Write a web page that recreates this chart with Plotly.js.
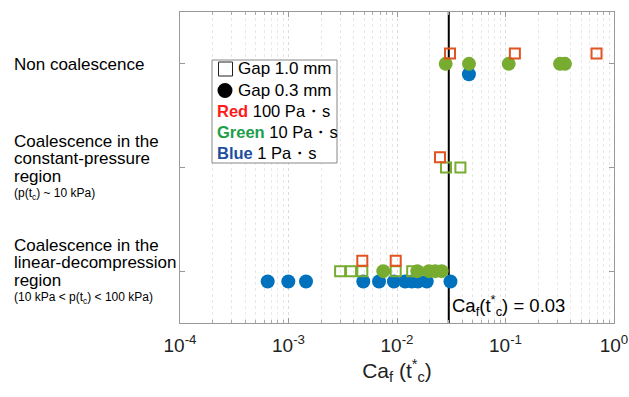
<!DOCTYPE html>
<html><head><meta charset="utf-8">
<script src="https://cdn.plot.ly/plotly-3.0.1.min.js"></script>
<style>html,body{margin:0;padding:0;background:#fff}#chart{width:629px;height:397px}</style>
</head><body><div id="chart"></div>
<script>
// ---- data ----
const rowNames = ['Linear-decompression', 'Constant-pressure', 'Non coalescence']; // rows 1,2,3
const xTickVals = [1e-4, 1e-3, 1e-2, 1e-1, 1];
const xTickText = ['10<sup>-4</sup>', '10<sup>-3</sup>', '10<sup>-2</sup>', '10<sup>-1</sup>', '10<sup>0</sup>'];
const caThreshold = 0.03;

// Red 100 Pa·s, gap 1.0 mm (open squares)
const red100Gap10X   = [0.0308, 0.122, 0.69, 0.0249, 0.00479, 0.00973];
const red100Gap10Row = [3, 3, 3, 2, 1, 1];
// Green 10 Pa·s, gap 1.0 mm (open squares)
const green10Gap10X   = [0.0283, 0.0384, 0.00299, 0.00377, 0.00479, 0.00973, 0.0138];
const green10Gap10Row = [2, 2, 1, 1, 1, 1, 1];
// Green 10 Pa·s, gap 0.3 mm (filled circles)
const green10Gap03X   = [0.0281, 0.0461, 0.107, 0.318, 0.353, 0.00748, 0.0154, 0.0197, 0.0225, 0.0258];
const green10Gap03Row = [3, 3, 3, 3, 3, 1, 1, 1, 1, 1];
// Blue 1 Pa·s, gap 0.3 mm (filled circles)
const blue1Gap03X   = [0.046, 0.000643, 0.000996, 0.00145, 0.00489, 0.00683, 0.00937, 0.0119, 0.0137, 0.0156, 0.0188, 0.0311];
const blue1Gap03Row = [3, 1, 1, 1, 1, 1, 1, 1, 1, 1, 1, 1];

// legend texts
const legendGap = ['Gap 1.0 mm', 'Gap 0.3 mm'];
const legendVisc = [['Red', '100 Pa・s', '#FF1A1A'], ['Green', '10 Pa・s', '#1E9E4A'], ['Blue', '1 Pa・s', '#1F4E9F']];

// ---- styles ----
const C_RED = '#E2531F', C_GREEN = '#77AC30', C_BLUE = '#0072BD';
const FONT = 'Liberation Sans, Arial, sans-serif';
const L = 180, R = 15, T = 12, B = 74, W = 629, H = 397;
const pw = W - L - R, ph = H - T - B;
const px = v => (v - L) / pw;
const py = v => (H - B - v) / ph;
const yRange = [0.5, 3.5];

function series(x, rows, off, marker) {
  return {x: x, y: rows.map(r => r + off), type: 'scatter', mode: 'markers',
          marker: marker, hoverinfo: 'x', showlegend: false, cliponaxis: false};
}
const data = [
  {x: [caThreshold, caThreshold], y: yRange, type: 'scatter', mode: 'lines',
   line: {color: '#000', width: 2}, hoverinfo: 'skip', showlegend: false},
  series(blue1Gap03X, blue1Gap03Row, -0.1, {symbol: 'circle', size: 14, color: C_BLUE}),
  series(green10Gap10X, green10Gap10Row, 0, {symbol: 'square-open', size: 10, color: C_GREEN, line: {width: 2}}),
  series(green10Gap03X, green10Gap03Row, 0, {symbol: 'circle', size: 14, color: C_GREEN}),
  series(red100Gap10X, red100Gap10Row, 0.1, {symbol: 'square-open', size: 10, color: C_RED, line: {width: 2}})
];

const ann = [];
function txt(text, xpx, ypx, size, extra) {
  ann.push(Object.assign({text: text, xref: 'paper', yref: 'paper', x: px(xpx), y: py(ypx),
    xanchor: 'left', yanchor: 'middle', showarrow: false, align: 'left', borderpad: 0,
    font: {family: FONT, size: size, color: '#000'}}, extra || {}));
}
const tight = {height: 17, valign: 'middle'};
// left row labels
txt('Non coalescence', 13, 64, 17);
txt('Coalescence in the', 13, 141, 17, tight);
txt('constant-pressure', 13, 158.5, 17, tight);
txt('region', 13, 176, 17, tight);
txt('(p(t<sub>c</sub>) ~ 10 kPa)', 13, 194, 12);
txt('Coalescence in the', 13, 245, 17, tight);
txt('linear-decompression', 13, 262.5, 17, tight);
txt('region', 13, 280, 17, tight);
txt('(10 kPa &lt; p(t<sub>c</sub>) &lt; 100 kPa)', 13, 298, 12);
// threshold label
txt('Ca<sub>f</sub>(t<sup>*</sup><sub>c</sub>) = 0.03', 451, 305, 18.5);
// legend lines
legendGap.forEach((s, i) => txt(s, 237, 69 + 21 * i, 17));
legendVisc.forEach((v, i) => txt('<span style="color:' + v[2] + '"><b>' + v[0] + '</b></span> ' + v[1], 216, 111 + 21 * i, 16.5));

const shapes = [
  // legend box
  {type: 'rect', xref: 'paper', yref: 'paper', x0: px(212), x1: px(337), y0: py(163), y1: py(60),
   line: {color: '#888', width: 1}, fillcolor: '#fff', layer: 'above'},
  // legend symbols
  {type: 'rect', xref: 'paper', yref: 'paper', x0: px(218.5), x1: px(232.5), y0: py(76), y1: py(62),
   line: {color: '#222', width: 1}, fillcolor: 'rgba(0,0,0,0)', layer: 'above'},
  {type: 'circle', xref: 'paper', yref: 'paper', x0: px(217.5), x1: px(232.5), y0: py(98), y1: py(83),
   line: {color: '#000', width: 0}, fillcolor: '#000', layer: 'above'}
];

const layout = {
  width: W, height: H,
  margin: {l: L, r: R, t: T, b: B},
  paper_bgcolor: '#fff', plot_bgcolor: '#fff',
  font: {family: FONT, color: '#000'},
  xaxis: {
    type: 'log', range: [-4, 0], tickvals: xTickVals, ticktext: xTickText,
    tickfont: {size: 19, color: '#222'}, ticklabelstandoff: 5,
    showline: true, linecolor: '#999', linewidth: 1, mirror: 'ticks',
    ticks: 'inside', ticklen: 5, tickcolor: '#999',
    showgrid: true, gridcolor: '#dcdcdc', griddash: 'dot', gridwidth: 1,
    minor: {dtick: 'D1', showgrid: true, gridcolor: '#e8e8e8', griddash: 'dot', ticks: 'inside', ticklen: 3, tickcolor: '#aaa'},
    zeroline: false,
    title: {text: 'Ca<sub>f</sub> (t<sup>*</sup><sub>c</sub>)', font: {size: 21, color: '#222'}, standoff: 6}
  },
  yaxis: {
    range: yRange, tickvals: [1, 2, 3], ticktext: rowNames, showticklabels: false,
    showline: true, linecolor: '#999', linewidth: 1, mirror: 'ticks',
    ticks: 'inside', ticklen: 5, tickcolor: '#999', showgrid: false, zeroline: false
  },
  shapes: shapes,
  annotations: ann
};
Plotly.newPlot('chart', data, layout, {staticPlot: true, displayModeBar: false});
</script></body></html>
